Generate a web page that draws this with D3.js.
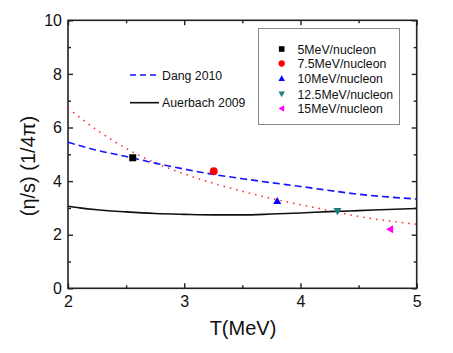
<!DOCTYPE html>
<html><head><meta charset="utf-8">
<script src="https://cdn.jsdelivr.net/npm/d3@7"></script>
<style>body{margin:0;background:#fff}svg{display:block}text{font-family:"Liberation Sans",Arial,sans-serif}</style>
</head><body><svg id="c" width="453" height="353"></svg>
<script>
// Data
const xTicks = [2, 3, 4, 5];
const yTicks = [0, 2, 4, 6, 8, 10];
const dangT = [2.0, 2.25, 2.5, 2.75, 3.0, 3.25, 3.5, 3.75, 4.0, 4.25, 4.5, 4.75, 5.0];
const dangV = [5.45, 5.15, 4.92, 4.67, 4.45, 4.25, 4.09, 3.94, 3.80, 3.65, 3.51, 3.41, 3.33];
const auerT = [2.0, 2.1, 2.25, 2.5, 2.75, 3.0, 3.25, 3.5, 3.75, 4.0, 4.25, 4.5, 4.75, 5.0];
const auerV = [3.06, 3.0, 2.93, 2.85, 2.79, 2.76, 2.74, 2.74, 2.77, 2.81, 2.86, 2.9, 2.94, 2.98];
const fitT = [2.0, 2.25, 2.5, 2.75, 3.0, 3.25, 3.5, 3.75, 4.0, 4.25, 4.5, 4.75, 5.0];
const fitV = [6.72, 5.9, 5.22, 4.68, 4.27, 3.92, 3.62, 3.35, 3.12, 2.9, 2.68, 2.52, 2.39];
const pointNames = ["5MeV/nucleon", "7.5MeV/nucleon", "10MeV/nucleon", "12.5MeV/nucleon", "15MeV/nucleon"];
const pointT = [2.557, 3.254, 3.80, 4.318, 4.771];
const pointV = [4.87, 4.37, 3.26, 2.88, 2.2];
const pointColors = ["#000000", "#ff0000", "#0000ff", "#1a7f7f", "#ff00ff"];
const pointShapes = ["square", "circle", "up", "down", "left"];

const svg = d3.select("#c");
const L = 68, R = 416.7, T = 20.3, B = 288.3;
const x = d3.scaleLinear().domain([2, 5]).range([L, R]);
const y = d3.scaleLinear().domain([0, 10]).range([B, T]);

// frame
svg.append("rect").attr("x", L).attr("y", T).attr("width", R - L).attr("height", B - T)
  .attr("fill", "none").attr("stroke", "#222").attr("stroke-width", 1.6);

function axis(gen, scale, ticks, len, tx, ty, labels) {
  const g = svg.append("g").attr("transform", `translate(${tx},${ty})`)
    .call(gen(scale).tickValues(ticks).tickSizeInner(-len).tickSizeOuter(0).tickPadding(6)
      .tickFormat(labels ? d3.format("d") : ""));
  g.select(".domain").remove();
  g.selectAll(".tick line").attr("stroke", "#222").attr("stroke-width", 1.4);
  g.selectAll(".tick text").attr("fill", "#111").style("font-size", "16px");
  return g;
}
const xMinor = [2.5, 3.5, 4.5];
const yMinor = [1, 3, 5, 7, 9];
const gx = axis(d3.axisBottom, x, xTicks, 5, 0, B, true);
gx.selectAll(".tick text").attr("dy", "0.95em").attr("y", 4);
axis(d3.axisBottom, x, xMinor, 3, 0, B, false);
axis(d3.axisTop, x, xTicks, 5, 0, T, false);
axis(d3.axisTop, x, xMinor, 3, 0, T, false);
const gy = axis(d3.axisLeft, y, yTicks, 5, L, 0, true);
gy.selectAll(".tick text").attr("x", -6);
axis(d3.axisLeft, y, yMinor, 3, L, 0, false);
axis(d3.axisRight, y, yTicks, 5, R, 0, false);
axis(d3.axisRight, y, yMinor, 3, R, 0, false);

// curves
const line = d3.line().curve(d3.curveMonotoneX);
const plot = svg.append("g");
plot.append("path").attr("d", line(fitT.map((t, i) => [x(t), y(fitV[i])])))
  .attr("fill", "none").attr("stroke", "#ff3030").attr("stroke-width", 1.6)
  .attr("stroke-dasharray", "1.5,5");
plot.append("path").attr("d", line(dangT.map((t, i) => [x(t), y(dangV[i])])))
  .attr("fill", "none").attr("stroke", "#1515ff").attr("stroke-width", 1.6)
  .attr("stroke-dasharray", "7,4");
plot.append("path").attr("d", line(auerT.map((t, i) => [x(t), y(auerV[i])])))
  .attr("fill", "none").attr("stroke", "#111").attr("stroke-width", 1.6);

function symbolPath(shape, s) {
  if (shape === "square") return `M${-s},${-s}H${s}V${s}H${-s}Z`;
  if (shape === "circle") return d3.symbol(d3.symbolCircle, Math.PI * s * s * 1.25)();
  const h = s * 1.15;
  if (shape === "up") return `M0,${-h}L${h},${h * 0.75}L${-h},${h * 0.75}Z`;
  if (shape === "down") return `M0,${h}L${h},${-h * 0.75}L${-h},${-h * 0.75}Z`;
  if (shape === "left") return `M${-h},0L${h * 0.75},${-h}L${h * 0.75},${h}Z`;
}
pointT.forEach((t, i) => {
  plot.append("path").attr("d", symbolPath(pointShapes[i], 3.5))
    .attr("transform", `translate(${x(t)},${y(pointV[i])})`).attr("fill", pointColors[i]);
});

// left legend (lines)
const lg = svg.append("g");
lg.append("line").attr("x1", 130).attr("x2", 159).attr("y1", 75).attr("y2", 75)
  .attr("stroke", "#1515ff").attr("stroke-width", 1.6).attr("stroke-dasharray", "6,4");
lg.append("text").attr("x", 162).attr("y", 79.5).text("Dang 2010").style("font-size", "12.3px").attr("fill", "#111");
lg.append("line").attr("x1", 130).attr("x2", 159).attr("y1", 102.7).attr("y2", 102.7)
  .attr("stroke", "#111").attr("stroke-width", 1.6);
lg.append("text").attr("x", 162).attr("y", 107.2).text("Auerbach 2009").style("font-size", "12.3px").attr("fill", "#111");

// right legend box
svg.append("rect").attr("x", 258.5).attr("y", 28.5).attr("width", 141).attr("height", 96)
  .attr("fill", "#fff").attr("stroke", "#888").attr("stroke-width", 1);
const rowY = [49, 63.5, 78.5, 94, 108.5];
pointNames.forEach((n, i) => {
  svg.append("path").attr("d", symbolPath(pointShapes[i], 2.8))
    .attr("transform", `translate(281.7,${rowY[i]})`).attr("fill", pointColors[i]);
  svg.append("text").attr("x", 297.5).attr("y", rowY[i] + 4.5).text(n)
    .style("font-size", "12.3px").attr("fill", "#111");
});

// axis titles
svg.append("text").attr("x", 243).attr("y", 335).attr("text-anchor", "middle")
  .style("font-size", "20px").attr("fill", "#111").text("T(MeV)");
svg.append("text").attr("transform", "translate(35,166) rotate(-90)").attr("text-anchor", "middle")
  .style("font-size", "20px").attr("fill", "#111").text("(η/s) (1/4π)");
</script></body></html>
